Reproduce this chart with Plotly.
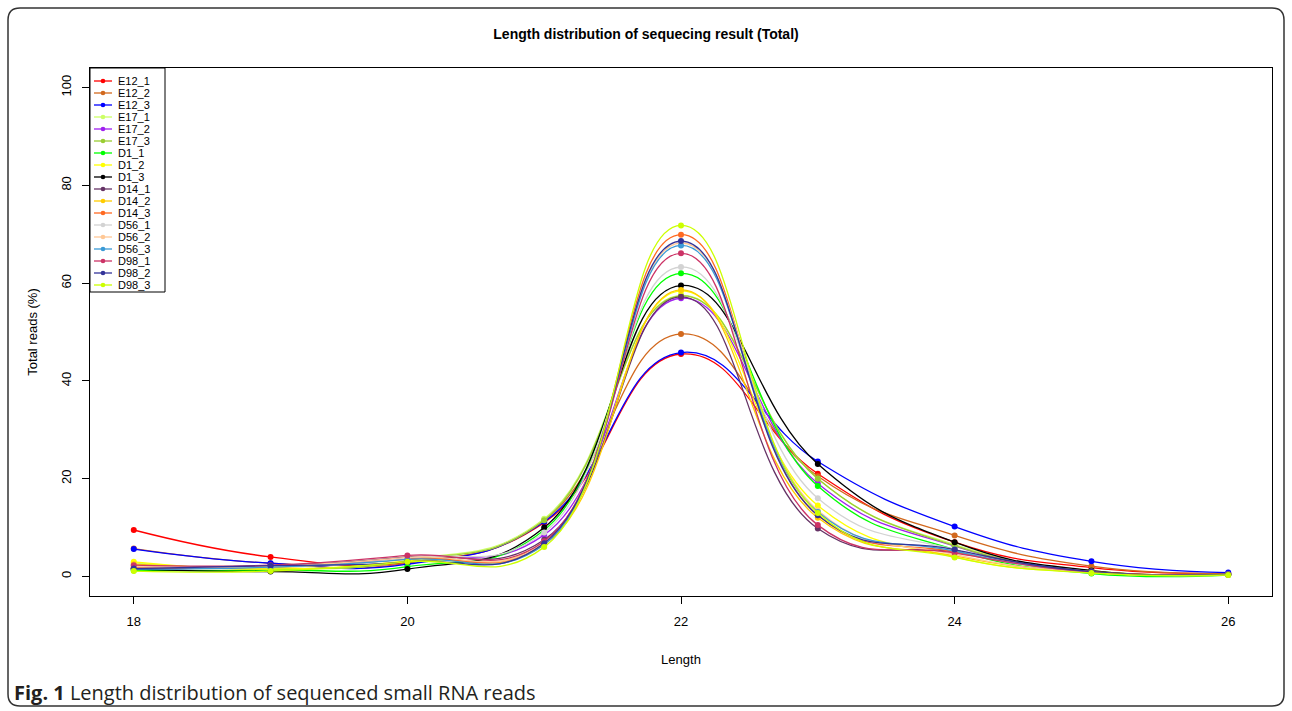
import plotly.graph_objects as go

lengths = [18, 19, 20, 21, 22, 23, 24, 25, 26]

names = ["E12_1", "E12_2", "E12_3", "E17_1", "E17_2", "E17_3",
         "D1_1", "D1_2", "D1_3", "D14_1", "D14_2", "D14_3",
         "D56_1", "D56_2", "D56_3", "D98_1", "D98_2", "D98_3"]

colors = ["#FF0000", "#D2691E", "#0000FF", "#CCFF66", "#A020F0", "#9ACD32",
          "#00FF00", "#FFFF00", "#000000", "#663366", "#FFCC00", "#FF6A22",
          "#D3D3D3", "#FFC896", "#3A9AD6", "#CC3366", "#333399", "#CCFF00"]

E12_1 = [9.5, 4.0, 2.9, 11.0, 45.5, 21.0, 7.0, 1.8, 0.6]
E12_2 = [5.7, 2.7, 2.7, 11.5, 49.6, 20.5, 8.4, 2.1, 0.6]
E12_3 = [5.6, 2.7, 2.5, 11.2, 45.8, 23.5, 10.2, 3.1, 0.8]
E17_1 = [2.8, 1.5, 3.3, 11.8, 57.5, 20.0, 6.5, 1.2, 0.4]
E17_2 = [1.6, 2.0, 3.8, 8.5, 56.9, 19.0, 6.2, 1.0, 0.4]
E17_3 = [1.3, 1.5, 3.2, 11.5, 57.4, 20.0, 6.3, 1.0, 0.4]
D1_1 = [1.2, 1.3, 2.0, 9.5, 62.0, 18.5, 5.5, 0.6, 0.3]
D1_2 = [3.0, 1.5, 3.2, 7.0, 58.4, 14.5, 4.0, 0.8, 0.3]
D1_3 = [1.5, 1.0, 1.5, 10.0, 59.5, 23.0, 7.0, 1.2, 0.4]
D14_1 = [1.6, 2.2, 4.0, 7.5, 57.2, 9.8, 5.0, 1.0, 0.4]
D14_2 = [2.5, 1.8, 3.6, 6.5, 58.6, 12.0, 4.2, 0.8, 0.3]
D14_3 = [1.8, 2.0, 3.6, 7.0, 69.9, 12.5, 5.0, 1.0, 0.4]
D56_1 = [2.2, 2.0, 3.8, 9.0, 63.3, 16.0, 5.5, 0.9, 0.4]
D56_2 = [2.0, 2.1, 3.9, 7.0, 68.2, 13.5, 4.5, 0.8, 0.3]
D56_3 = [1.5, 1.9, 3.5, 6.5, 67.7, 13.2, 5.2, 0.9, 0.4]
D98_1 = [2.3, 2.3, 4.3, 7.2, 66.1, 10.5, 4.8, 0.9, 0.4]
D98_2 = [1.6, 2.2, 3.0, 6.8, 68.6, 12.5, 5.5, 1.0, 0.4]
D98_3 = [1.1, 1.1, 3.0, 6.0, 71.8, 13.0, 3.9, 0.7, 0.3]

series = [E12_1, E12_2, E12_3, E17_1, E17_2, E17_3, D1_1, D1_2, D1_3,
          D14_1, D14_2, D14_3, D56_1, D56_2, D56_3, D98_1, D98_2, D98_3]

W, H = 1292, 711
L, R, T, B = 90, 20, 68, 115
PW, PH = W - L - R, H - T - B


def px(x):
    return (x - L) / PW


def py(y):
    return (H - B - y) / PH


FONT = "Arial, Liberation Sans, sans-serif"

fig = go.Figure()
for name, col, vals in zip(names, colors, series):
    fig.add_trace(go.Scatter(
        x=lengths, y=vals, name=name, mode="lines+markers",
        line=dict(color=col, width=1.3, shape="spline", smoothing=1.3),
        marker=dict(color=col, size=6),
        showlegend=False, cliponaxis=True,
    ))

shapes = []
annotations = []

# legend box (manual, R style)
leg_top, leg_step = 81, 12
shapes.append(dict(type="rect", xref="paper", yref="paper",
                   x0=px(90), x1=px(165), y0=py(68), y1=py(292),
                   line=dict(color="black", width=1), fillcolor="white", layer="above"))
for i, (name, col) in enumerate(zip(names, colors)):
    yy = leg_top + leg_step * i
    shapes.append(dict(type="line", xref="paper", yref="paper",
                       x0=px(94), x1=px(112), y0=py(yy), y1=py(yy),
                       line=dict(color=col, width=1.3), layer="above"))
    shapes.append(dict(type="circle", xref="paper", yref="paper",
                       x0=px(100.7), x1=px(105.3), y0=py(yy - 2.3), y1=py(yy + 2.3),
                       line=dict(color=col, width=0), fillcolor=col, layer="above"))
    annotations.append(dict(xref="paper", yref="paper", x=px(116), y=py(yy),
                            text=name, showarrow=False, xanchor="left", yanchor="middle",
                            font=dict(family=FONT, size=11, color="black")))

# outer rounded frame
x0, x1, y0, y1, r = 8, 1284, 8, 706, 12
path = (f"M {px(x0 + r)},{py(y0)} L {px(x1 - r)},{py(y0)} "
        f"Q {px(x1)},{py(y0)} {px(x1)},{py(y0 + r)} "
        f"L {px(x1)},{py(y1 - r)} Q {px(x1)},{py(y1)} {px(x1 - r)},{py(y1)} "
        f"L {px(x0 + r)},{py(y1)} Q {px(x0)},{py(y1)} {px(x0)},{py(y1 - r)} "
        f"L {px(x0)},{py(y0 + r)} Q {px(x0)},{py(y0)} {px(x0 + r)},{py(y0)} Z")
shapes.append(dict(type="path", xref="paper", yref="paper", path=path,
                   line=dict(color="#333333", width=1.5)))

# caption
annotations.append(dict(xref="paper", yref="paper", x=px(12), y=py(692),
                        text="<b>Fig. 1</b> Length distribution of sequenced small RNA reads",
                        showarrow=False, xanchor="left", yanchor="middle",
                        font=dict(family="Open Sans, sans-serif", size=20, color="#231f20")))

fig.update_layout(
    width=W, height=H,
    margin=dict(l=L, r=R, t=T, b=B, autoexpand=False),
    paper_bgcolor="white", plot_bgcolor="white",
    title=dict(text="<b>Length distribution of sequecing result (Total)</b>",
               x=px(681), xanchor="center", y=1 - 34 / H, yanchor="middle",
               font=dict(family=FONT, size=14, color="black")),
    shapes=shapes, annotations=annotations,
    showlegend=False,
    font=dict(family=FONT, color="black"),
)

fig.update_xaxes(range=[17.68, 26.32], tickvals=[18, 20, 22, 24, 26],
                 showgrid=False, zeroline=False, showline=True, linecolor="black",
                 linewidth=1, mirror=True, ticks="outside", ticklen=7, tickcolor="black",
                 tickfont=dict(family=FONT, size=13), ticklabelstandoff=6,
                 title=dict(text="Length", font=dict(family=FONT, size=13), standoff=27))
fig.update_yaxes(range=[-4, 104], tickvals=[0, 20, 40, 60, 80, 100],
                 showgrid=False, zeroline=False, showline=True, linecolor="black",
                 linewidth=1, mirror=True, ticks="outside", ticklen=7, tickcolor="black",
                 tickangle=-90, tickfont=dict(family=FONT, size=13), ticklabelstandoff=6,
                 title=dict(text="Total reads (%)", font=dict(family=FONT, size=13), standoff=18))

fig.write_html("out.html", config={"displayModeBar": False},
               post_script="document.body.style.margin='0';document.body.style.padding='0';")
